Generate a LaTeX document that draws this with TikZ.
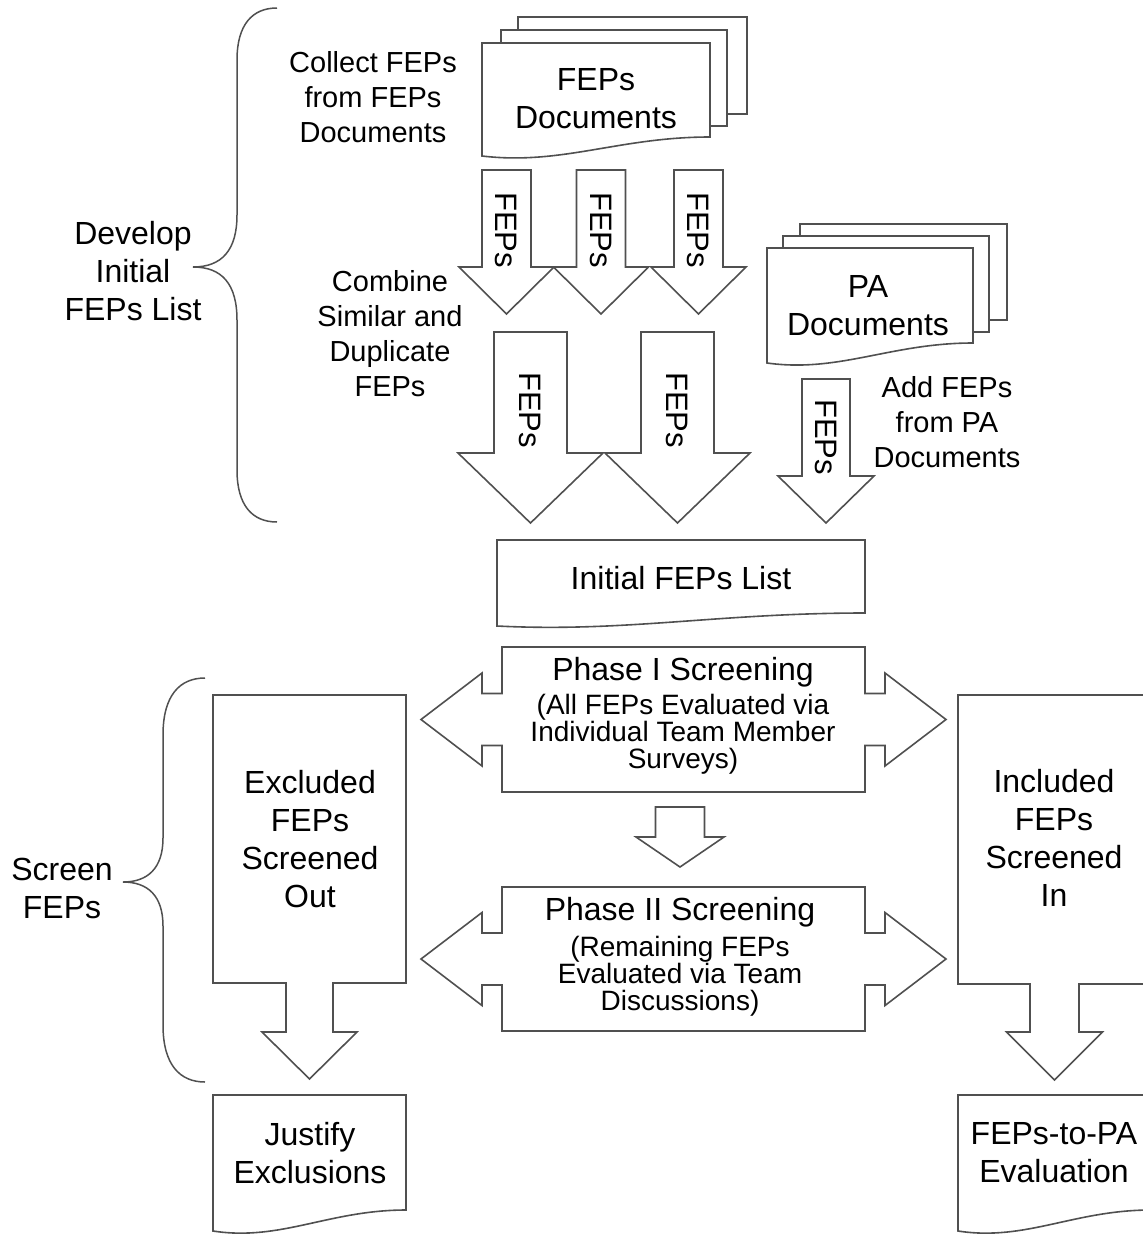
\documentclass[tikz,border=0pt]{standalone}
\usepackage{fontspec}
\setmainfont{Liberation Sans}
\usepackage{tikz}
\definecolor{linegray}{HTML}{505050}
\tikzstyle{blockline}=[draw=linegray, line width=1.6pt, fill=white]
\tikzstyle{bracket}=[draw=linegray, line width=1.5pt]
\tikzstyle{boxtext}=[inner sep=0pt, align=center, font=\fontsize{32}{38}\selectfont]
\tikzstyle{sidetext}=[inner sep=0pt, align=center, font=\fontsize{29}{35}\selectfont]
\tikzstyle{subtext}=[inner sep=0pt, align=center, font=\fontsize{28}{27}\selectfont]
\tikzstyle{fepstext}=[inner sep=0pt, rotate=-90, font=\fontsize{31}{36}\selectfont]

% sheet with wavy bottom: x1, top, x2, right bottom, left bottom
\newcommand{\docsheet}[5]{%
  \draw[blockline] (#1,#5) -- (#1,#2) -- (#3,#2) -- (#3,#4)
    .. controls ({#1+0.6*(#3-#1)},#4) and ({#1+0.35*(#3-#1)},{#5+0.5*(#5-#4)}) .. (#1,#5) -- cycle;}
% block arrow down: centre x, top, head base, tip, shaft half, head half
\newcommand{\downblock}[6]{%
  \draw[blockline] ({#1-#5},#2) -- ({#1+#5},#2) -- ({#1+#5},#3) -- ({#1+#6},#3)
    -- (#1,#4) -- ({#1-#6},#3) -- ({#1-#5},#3) -- cycle;}
% box with arrows left and right: x1 y1 x2 y2, shaft length, head length, shaft half, head half
\newcommand{\sideblock}[8]{%
  \draw[blockline] (#1,#2) -- (#3,#2) -- (#3,{(#2+#4)/2-#7}) -- ({#3+#5},{(#2+#4)/2-#7})
    -- ({#3+#5},{(#2+#4)/2-#8}) -- ({#3+#5+#6},{(#2+#4)/2}) -- ({#3+#5},{(#2+#4)/2+#8})
    -- ({#3+#5},{(#2+#4)/2+#7}) -- (#3,{(#2+#4)/2+#7}) -- (#3,#4) -- (#1,#4)
    -- (#1,{(#2+#4)/2+#7}) -- ({#1-#5},{(#2+#4)/2+#7}) -- ({#1-#5},{(#2+#4)/2+#8})
    -- ({#1-#5-#6},{(#2+#4)/2}) -- ({#1-#5},{(#2+#4)/2-#8}) -- ({#1-#5},{(#2+#4)/2-#7})
    -- (#1,{(#2+#4)/2-#7}) -- cycle;}
% box with arrow below: x1 y1 x2 y2, head base, tip, shaft half, head half
\newcommand{\calloutblock}[8]{%
  \draw[blockline] (#1,#2) -- (#3,#2) -- (#3,#4) -- ({(#1+#3)/2+#7},#4) -- ({(#1+#3)/2+#7},#5)
    -- ({(#1+#3)/2+#8},#5) -- ({(#1+#3)/2},#6) -- ({(#1+#3)/2-#8},#5) -- ({(#1+#3)/2-#7},#5)
    -- ({(#1+#3)/2-#7},#4) -- (#1,#4) -- cycle;}

\begin{document}
\begin{tikzpicture}[x=1pt, y=-1pt]
	\useasboundingbox (0,0) rectangle (1143,1237);
	\clip (0,0) rectangle (1143,1237);

	% develop initial list
	\draw[bracket] (277,8) .. controls (252,8) and (237,25) .. (237,60) -- (237,215)
		.. controls (237,250) and (222,267) .. (193,267)
		.. controls (222,267) and (237,284) .. (237,320) -- (237,470)
		.. controls (237,505) and (252,522) .. (277,522);
	\node[boxtext] (develop) at (133,271) {Develop\\Initial\\FEPs List};
	\node[sidetext] (collect) at (373,97) {Collect FEPs\\from FEPs\\Documents};
	\node[sidetext] (combine) at (390,334) {Combine\\Similar and\\Duplicate\\FEPs};

	\draw[blockline] (518,17) rectangle (747,114);
	\draw[blockline] (501,30) rectangle (727,126);
	\docsheet{482}{43}{710}{137}{156}
	\node[boxtext] (fepdocs) at (596,99) {FEPs\\Documents};

	\foreach \cx/\nm in {506.5/feps1, 601/feps2, 698.5/feps3}{
		\downblock{\cx}{170}{267}{314}{24.5}{47.5}
		\node[fepstext] (\nm) at (\cx,230) {FEPs};
	}
	\foreach \cx/\nm in {530.5/feps4, 677.5/feps5}{
		\downblock{\cx}{332}{453}{523}{36.5}{72.5}
		\node[fepstext] (\nm) at (\cx,410) {FEPs};
	}

	\draw[blockline] (800,224) rectangle (1007,320);
	\draw[blockline] (783,236) rectangle (989,332);
	\docsheet{767}{248}{973}{343}{363}
	\node[boxtext] (padocs) at (868,306) {PA\\Documents};
	\downblock{826}{379}{476}{523}{24}{48}
	\node[fepstext] (feps6) at (826,437) {FEPs};
	\node[sidetext] (addfeps) at (947,422) {Add FEPs\\from PA\\Documents};

	\docsheet{497}{540}{865}{613}{626}
	\node[boxtext] (initlist) at (681,578) {Initial FEPs List};

	% screening
	\draw[bracket] (205,678) .. controls (180,678) and (163,695) .. (163,735) -- (163,838)
		.. controls (163,868) and (148,882) .. (123,882)
		.. controls (148,882) and (163,896) .. (163,926) -- (163,1025)
		.. controls (163,1065) and (180,1082) .. (205,1082);
	\node[boxtext] (screen) at (62,888) {Screen\\FEPs};

	\sideblock{502}{647}{865}{792}{20}{61}{26}{46.5}
	\node[boxtext] (phase1) at (683,672) {Phase I Screening};
	\node[subtext] (phase1sub) at (683,734) {(All FEPs Evaluated via\\Individual Team Member\\Surveys)};
	\downblock{680}{807}{837}{867}{24.5}{44}
	\sideblock{502}{887}{865}{1031}{20}{61}{26}{46.5}
	\node[boxtext] (phase2) at (680,912) {Phase II Screening};
	\node[subtext] (phase2sub) at (680,976) {(Remaining FEPs\\Evaluated via Team\\Discussions)};

	\calloutblock{213}{695}{406}{983}{1032}{1079}{23.5}{47.5}
	\node[boxtext] (excluded) at (310,839) {Excluded\\FEPs\\Screened\\Out};
	\calloutblock{958}{695}{1151}{984}{1032}{1080}{24.5}{48}
	\node[boxtext] (included) at (1054,838) {Included\\FEPs\\Screened\\In};

	\docsheet{213}{1095}{406}{1210}{1231}
	\node[boxtext] (justify) at (310,1153) {Justify\\Exclusions};
	\docsheet{958}{1095}{1151}{1210}{1231}
	\node[boxtext] (fepstopa) at (1054,1153) {FEPs-to-PA\\Evaluation};
\end{tikzpicture}
\end{document}
